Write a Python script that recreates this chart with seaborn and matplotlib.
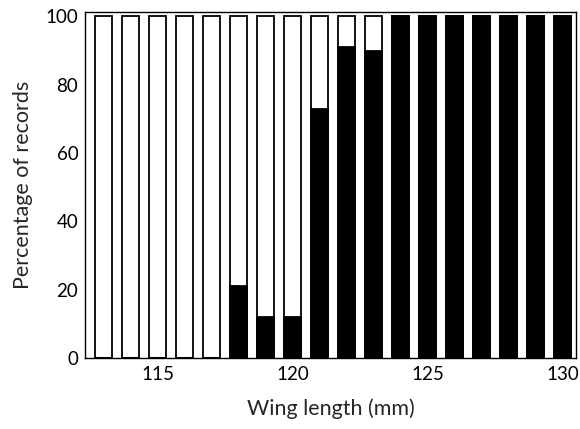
import numpy as np
import pandas as pd
import matplotlib.pyplot as plt
import seaborn as sns

# wing length (mm) and percentage of records in the "black" class
wing_length = [113, 114, 115, 116, 117, 118, 119, 120, 121, 122,
               123, 124, 125, 126, 127, 128, 129, 130]
black_pct = [0, 0, 0, 0, 0, 21, 12, 12, 73, 91,
             90, 100, 100, 100, 100, 100, 100, 100]
total_pct = [100] * len(wing_length)

df = pd.DataFrame({'wing': wing_length, 'black': black_pct, 'total': total_pct})

sns.set_style('white')
plt.rcParams['font.family'] = ['Lato', 'DejaVu Sans']

fig = plt.figure(figsize=(5.8, 4.29), dpi=100)
ax = fig.add_axes([0.147, 0.166, 0.846, 0.806])

# white bars = whole 100 %, black bars drawn on top
sns.barplot(data=df, x='wing', y='total', native_scale=True, width=0.63,
            color='white', edgecolor='black', linewidth=1.3, saturation=1, ax=ax)
sns.barplot(data=df, x='wing', y='black', native_scale=True, width=0.63,
            color='black', edgecolor='black', linewidth=1.3, saturation=1, ax=ax)

ax.set_xlim(112.33, 130.48)
ax.set_ylim(0, 101.3)
ax.set_xticks([115, 120, 125, 130])
ax.set_yticks([0, 20, 40, 60, 80, 100])
ax.tick_params(direction='in', length=3, width=0.8, labelsize=13.5, colors='black')
ax.tick_params(axis='y', pad=5)
ax.tick_params(axis='x', pad=6)
ax.set_xlabel('Wing length (mm)', fontsize=15.5, labelpad=11)
ax.set_ylabel('Percentage of records', fontsize=15.5, labelpad=9)
for s in ax.spines.values():
    s.set_color('black')
    s.set_linewidth(1.0)

fig.savefig('out.png', dpi=100)
